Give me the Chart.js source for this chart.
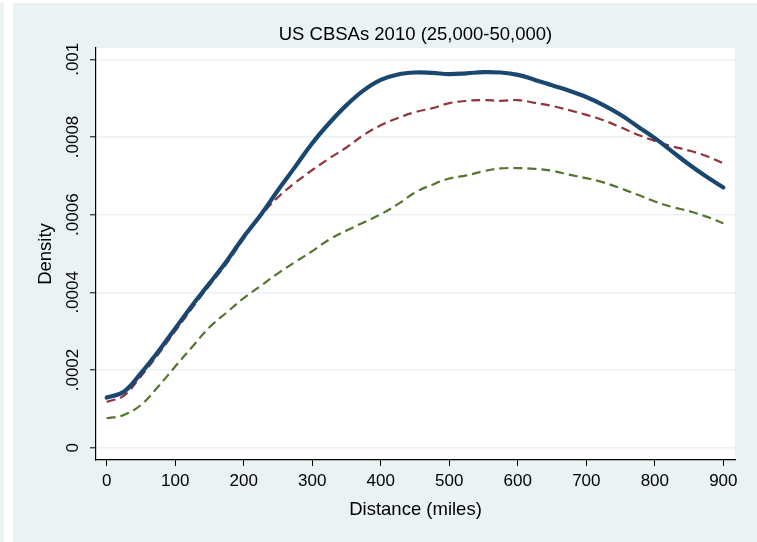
<!DOCTYPE html>
<html>
<head>
<meta charset="utf-8">
<script src="https://cdn.jsdelivr.net/npm/chart.js@4/dist/chart.umd.min.js"></script>
<style>
  html, body { margin: 0; padding: 0; background: #fff; }
  #wrap { width: 757px; height: 542px; }
</style>
</head>
<body>
<div id="wrap"><canvas id="c" width="757" height="542"></canvas></div>
<script>
(() => {
  'use strict';

  // distance grid (miles)
  const DIST = [
    0, 25, 50, 75, 100, 125, 150, 175, 200, 225, 250, 275, 300, 325, 350, 375, 400, 425, 450,
    475, 500, 525, 550, 575, 600, 625, 650, 675, 700, 725, 750, 775, 800, 825, 850, 875, 900,
  ];

  // solid navy density
  const ALL = [
    0.000129, 0.000144, 0.000192, 0.000247, 0.000307, 0.000367, 0.000423, 0.000480, 0.000543,
    0.000600, 0.000663, 0.000723, 0.000784, 0.000836, 0.000882, 0.000920, 0.000947, 0.000961,
    0.000966, 0.000965, 0.000962, 0.000964, 0.000967, 0.000966, 0.000960, 0.000947, 0.000933,
    0.000919, 0.000903, 0.000882, 0.000857, 0.000827, 0.000797, 0.000763, 0.000729, 0.000698,
    0.000670,
  ];

  // maroon dashed density
  const RED = [
    0.000118, 0.000134, 0.000184, 0.000240, 0.000300, 0.000360, 0.000418, 0.000474, 0.000538,
    0.000597, 0.000645, 0.000682, 0.000715, 0.000745, 0.000773, 0.000805, 0.000830, 0.000849,
    0.000864, 0.000874, 0.000887, 0.000893, 0.000895, 0.000893, 0.000895, 0.000888, 0.000880,
    0.000869, 0.000857, 0.000843, 0.000825, 0.000806, 0.000790, 0.000776, 0.000765, 0.000751,
    0.000732,
  ];

  // green dashed density
  const GREEN = [
    0.0000757, 0.0000842, 0.000110, 0.000157, 0.000209, 0.000260, 0.000310, 0.000348, 0.000385,
    0.000417, 0.000449, 0.000478, 0.000506, 0.000536, 0.000559, 0.000580, 0.000601, 0.000627,
    0.000657, 0.000677, 0.000693, 0.000701, 0.000712, 0.000719, 0.000720, 0.000718, 0.000713,
    0.000703, 0.000694, 0.000683, 0.000668, 0.000651, 0.000634, 0.000620, 0.000609, 0.000595,
    0.000578,
  ];

  // axis ticks
  const X_TICKS = [0, 100, 200, 300, 400, 500, 600, 700, 800, 900];
  const Y_TICKS = [0, 0.0002, 0.0004, 0.0006, 0.0008, 0.001];
  const Y_TICK_LABELS = ['0', '.0002', '.0004', '.0006', '.0008', '.001'];
  const TITLE = 'US CBSAs 2010 (25,000-50,000)';

  const FONT = '"Liberation Sans", Arial, Helvetica, sans-serif';
  const BG = '#eaf2f3';

  const pts = (ys) => DIST.map((x, i) => ({ x: x, y: ys[i] }));

  // stata-like backdrop: outer tint, white strips, white plot region
  const backdrop = {
    id: 'backdrop',
    beforeDraw: (chart) => {
      const {ctx, width, height, chartArea: a} = chart;
      ctx.save();
      ctx.fillStyle = BG;
      ctx.fillRect(0, 0, width, height);
      ctx.fillStyle = '#fff';
      ctx.fillRect(4, 0, 9, height);
      ctx.fillRect(0, 0, width, 3);
      ctx.fillRect(a.left, a.top, a.right - a.left, a.bottom - a.top);
      ctx.restore();
    },
  };

  // title centred over the plot region, y tick labels drawn vertical
  const texts = {
    id: 'texts',
    afterDraw: (chart) => {
      const {ctx, chartArea: a} = chart, s = chart.scales.y;
      ctx.save();
      ctx.fillStyle = '#000';
      ctx.textAlign = 'center';
      ctx.textBaseline = 'middle';

      ctx.font = '18.5px ' + FONT;
      ctx.fillText(TITLE, (a.left + a.right) / 2, 35);

      ctx.font = '17px ' + FONT;
      Y_TICKS.forEach((v, i) => {
        ctx.save();
        ctx.translate(73, s.getPixelForValue(v));
        ctx.rotate(-Math.PI / 2);
        ctx.fillText(Y_TICK_LABELS[i], 0, 0);
        ctx.restore();
      });
      ctx.restore();
    },
  };

  const dashed = (label, color, ys) => ({
    label: label,
    data: pts(ys),
    borderColor: color,
    borderWidth: 2.2,
    borderDash: [9, 5],
    pointRadius: 0,
    tension: 0.4,
    fill: false,
  });

  new Chart(document.getElementById('c'), {
    type: 'line',
    data: {
      datasets: [{
        label: 'All',
        data: pts(ALL),
        borderColor: '#1a476f',
        borderWidth: 4.2,
        pointRadius: 0,
        tension: 0.4,
        fill: false,
        borderCapStyle: 'round',
      },
      dashed('Red', '#90353b', RED),
      dashed('Green', '#55752f', GREEN)],
    },
    plugins: [backdrop, texts],
    options: {
      responsive: false,
      animation: false,
      layout: { padding: { left: 0, right: 22, top: 48, bottom: 0 } },
      plugins: {
        legend: { display: false },
        tooltip: { enabled: false },
        title: { display: false },
      },
      scales: {
        x: {
          type: 'linear',
          min: -15.6,
          max: 917,
          afterBuildTicks: (s) => { s.ticks = X_TICKS.map((v) => ({ value: v })); },
          afterFit: (s) => { s.height = 82; },
          ticks: {
            color: '#000',
            font: { family: FONT, size: 17 },
            padding: 5,
            maxRotation: 0,
            autoSkip: false,
          },
          grid: {
            drawOnChartArea: false,
            drawTicks: true,
            tickLength: 6,
            tickColor: '#000',
            tickWidth: 1,
          },
          border: { display: true, color: '#000', width: 1.2 },
          title: {
            display: true,
            text: 'Distance (miles)',
            color: '#000',
            font: { family: FONT, size: 18.5 },
            padding: { top: 0, bottom: 21 },
          },
        },
        y: {
          type: 'linear',
          min: -0.0000317,
          max: 0.0010291,
          afterBuildTicks: (s) => { s.ticks = Y_TICKS.map((v) => ({ value: v })); },
          afterFit: (s) => { s.width = 96; },
          ticks: { display: false },
          grid: {
            color: BG,
            lineWidth: 1.6,
            drawTicks: true,
            tickLength: 6,
            tickColor: '#000',
            tickWidth: 1,
          },
          border: { display: true, color: '#000', width: 1.2 },
          title: {
            display: true,
            text: 'Density',
            color: '#000',
            font: { family: FONT, size: 18.5 },
            padding: { top: 35, bottom: 0 },
          },
        },
      },
    },
  });
})();
</script>
</body>
</html>
